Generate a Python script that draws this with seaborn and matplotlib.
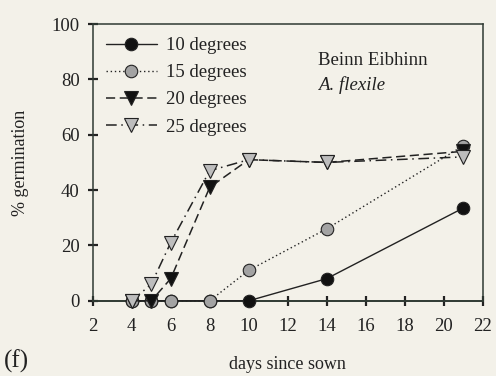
import matplotlib
matplotlib.use("Agg")
import matplotlib.pyplot as plt
import seaborn as sns
import pandas as pd

# Germination time courses, Beinn Eibhinn, A. flexile
days = [4, 5, 6, 8, 10, 14, 21]
germ_10 = [0, 0, 0, 0, 0, 8, 33.5]
germ_15 = [0, 0, 0, 0, 11, 26, 56]
germ_20 = [0, 0, 8, 41, 51, 50, 54]
germ_25 = [0, 6, 21, 47, 51, 50, 52]
labels = ["10 degrees", "15 degrees", "20 degrees", "25 degrees"]

sns.set_style("ticks")
plt.rcParams["font.family"] = ["Liberation Serif", "DejaVu Serif"]

bg = "#f3f1e9"
ink = "#222222"

rows = []
for lab, vals in zip(labels, [germ_10, germ_15, germ_20, germ_25]):
    for d, v in zip(days, vals):
        rows.append({"day": d, "germ": v, "temp": lab})
df = pd.DataFrame(rows)

fig = plt.figure(figsize=(4.96, 3.76), dpi=100, facecolor=bg)
ax = fig.add_axes([0.187, 0.200, 0.786, 0.736], facecolor=bg)

styles = {
    "10 degrees": dict(linestyle="-", marker="o", mfc="#111111", ms=9, lw=1.0),
    "15 degrees": dict(linestyle=(0, (1, 2)), marker="o", mfc="#a3a3a3", ms=9, lw=1.0),
    "20 degrees": dict(linestyle=(0, (6, 3)), marker="v", mfc="#111111", ms=9.5, lw=1.1),
    "25 degrees": dict(linestyle=(0, (7, 3, 1, 3)), marker="v", mfc="#bdbdbd", ms=9.5, lw=1.1),
}

for lab in labels:
    st = styles[lab]
    sub = df[df["temp"] == lab]
    sns.lineplot(data=sub, x="day", y="germ", ax=ax, color=ink,
                 linestyle=st["linestyle"], linewidth=st["lw"],
                 marker=st["marker"], markersize=st["ms"],
                 markerfacecolor=st["mfc"], markeredgecolor=ink,
                 markeredgewidth=0.8, label=lab, clip_on=False, zorder=3)

ax.set_xlim(2, 22)
ax.set_ylim(0, 100)
ax.set_xticks(range(2, 23, 2))
ax.set_yticks(range(0, 101, 20))
ax.tick_params(direction="inout", length=7, width=1.6, colors=ink,
               labelsize=13.5)
ax.tick_params(axis="x", pad=9)
ax.tick_params(axis="y", pad=6)
for sp in ax.spines.values():
    sp.set_color("#2f3a33")
    sp.set_linewidth(1.1)
ax.spines["bottom"].set_linewidth(1.4)

ax.set_xlabel("days since sown", fontsize=13, color=ink, labelpad=15)
ax.set_ylabel("% germination", fontsize=13, color=ink, labelpad=16)

leg = ax.legend(loc="upper left", bbox_to_anchor=(0.0, 1.0), frameon=False,
                fontsize=13.5, handlelength=2.7, handletextpad=0.5,
                labelspacing=0.53, borderaxespad=0.3)
for t in leg.get_texts():
    t.set_color(ink)

ax.text(0.578, 0.852, "Beinn Eibhinn", transform=ax.transAxes,
        fontsize=13.5, color=ink)
ax.text(0.578, 0.762, "A. flexile", transform=ax.transAxes,
        fontsize=13.5, color=ink, style="italic")

fig.text(0.008, 0.022, "(f)", fontsize=18, color=ink)

fig.savefig("out.png", dpi=100, facecolor=bg)
